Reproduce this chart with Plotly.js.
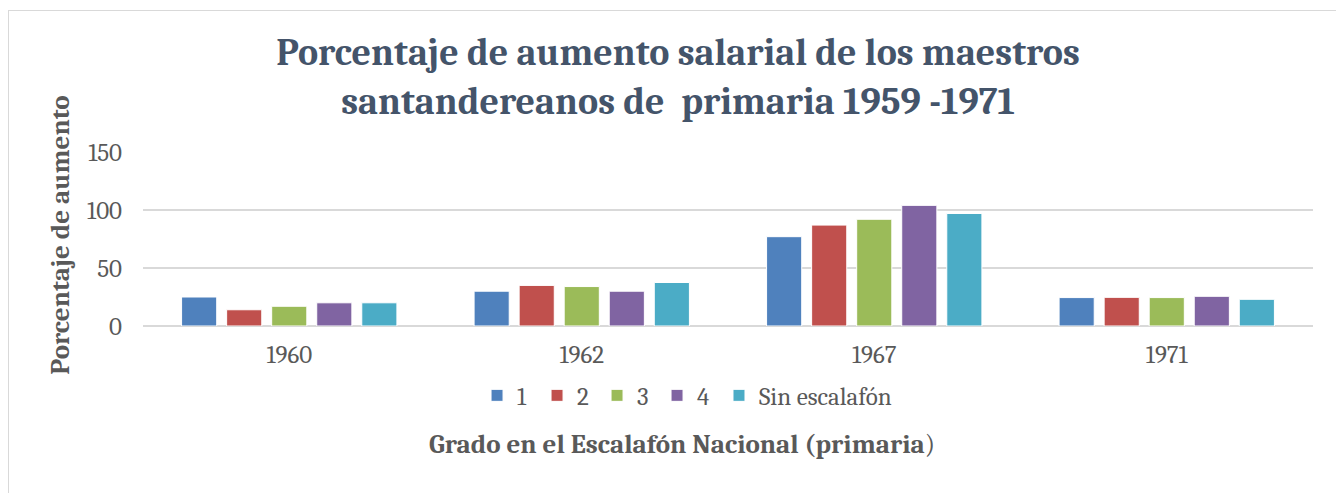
<!DOCTYPE html>
<html>
<head>
<meta charset="utf-8">
<script src="https://cdn.plot.ly/plotly-3.0.1.min.js"></script>
<style>
  html, body { margin: 0; padding: 0; background: #fff; overflow: hidden; }
  #frame { position: absolute; left: 8px; top: 10px; width: 1328px; height: 483px;
           border-left: 1px solid #d9d9d9; border-top: 1px solid #d9d9d9; }
  #chart { width: 1328px; height: 483px; }
</style>
</head>
<body>
<div id="frame"><div id="chart"></div></div>
<script>
const years = ['1960', '1962', '1967', '1971'];
const seriesNames = ['1', '2', '3', '4', 'Sin escalafón'];
const grado1 = [25, 30, 77, 24.5];
const grado2 = [14, 35, 87, 24.7];
const grado3 = [17, 34, 92, 24.5];
const grado4 = [20, 30, 104, 25.6];
const sinEscalafon = [20, 37.5, 97, 23];
const colors = ['#4F81BD', '#C0504D', '#9BBB59', '#8064A2', '#4BACC6'];
const allSeries = [grado1, grado2, grado3, grado4, sinEscalafon];

const FONT = 'Cambria, "Liberation Serif", "DejaVu Serif", serif';

const traces = allSeries.map((vals, i) => ({
  type: 'bar',
  name: seriesNames[i],
  x: years,
  y: vals,
  legend: i < 4 ? 'legend' : 'legend2',
  marker: { color: colors[i], line: { color: '#ffffff', width: 1 } },
  hoverinfo: 'x+y+name'
}));

const legendFont = { family: FONT, size: 25, color: '#595959' };

const layout = {
  width: 1328,
  height: 483,
  margin: { l: 134, r: 24, t: 141, b: 168 },
  paper_bgcolor: '#ffffff',
  plot_bgcolor: '#ffffff',
  font: { family: FONT, color: '#595959', size: 25 },
  title: {
    text: '<b>Porcentaje de aumento salarial de los maestros<br>santandereanos de  primaria 1959 -1971</b>',
    font: { family: FONT, size: 38, color: '#44546A' },
    xref: 'container', yref: 'container',
    x: 0.5038, xanchor: 'center',
    y: 0.889, yanchor: 'top'
  },
  barmode: 'group',
  bargap: 0.23,
  bargroupgap: 0.22,
  xaxis: {
    type: 'category',
    showgrid: false,
    showline: false,
    zeroline: false,
    ticks: '',
    ticklabelstandoff: 11,
    tickfont: { family: FONT, size: 25, color: '#595959' },
    automargin: false
  },
  yaxis: {
    range: [0, 150],
    tickvals: [0, 50, 100, 150],
    showgrid: true,
    gridcolor: '#d9d9d9',
    gridwidth: 1.5,
    zeroline: true,
    zerolinecolor: '#d9d9d9',
    zerolinewidth: 1.5,
    showline: false,
    ticks: '',
    ticklabelstandoff: 20,
    tickfont: { family: FONT, size: 25, color: '#595959' },
    automargin: false
  },
  showlegend: true,
  legend: {
    orientation: 'h',
    x: 0.2855, xanchor: 'left',
    y: -0.40, yanchor: 'middle',
    font: legendFont,
    traceorder: 'normal',
    bgcolor: 'rgba(0,0,0,0)',
    itemwidth: 30,
    entrywidth: 15,
    entrywidthmode: 'pixels'
  },
  legend2: {
    orientation: 'h',
    x: 0.4923, xanchor: 'left',
    y: -0.40, yanchor: 'middle',
    font: legendFont,
    bgcolor: 'rgba(0,0,0,0)',
    itemwidth: 30
  },
  annotations: [
    {
      text: '<b>Grado en el Escalafón Nacional (primaria</b>)',
      xref: 'paper', yref: 'paper',
      x: 0.4607, y: -0.68,
      xanchor: 'center', yanchor: 'middle',
      showarrow: false,
      font: { family: FONT, size: 27, color: '#595959' }
    },
    {
      text: '<b>Porcentaje de aumento</b>',
      xref: 'paper', yref: 'paper',
      x: -0.0708, y: 0.52,
      xanchor: 'center', yanchor: 'middle',
      textangle: -90,
      showarrow: false,
      font: { family: FONT, size: 27, color: '#595959' }
    }
  ]
};

Plotly.newPlot('chart', traces, layout, { displayModeBar: false, staticPlot: true });
</script>
</body>
</html>
